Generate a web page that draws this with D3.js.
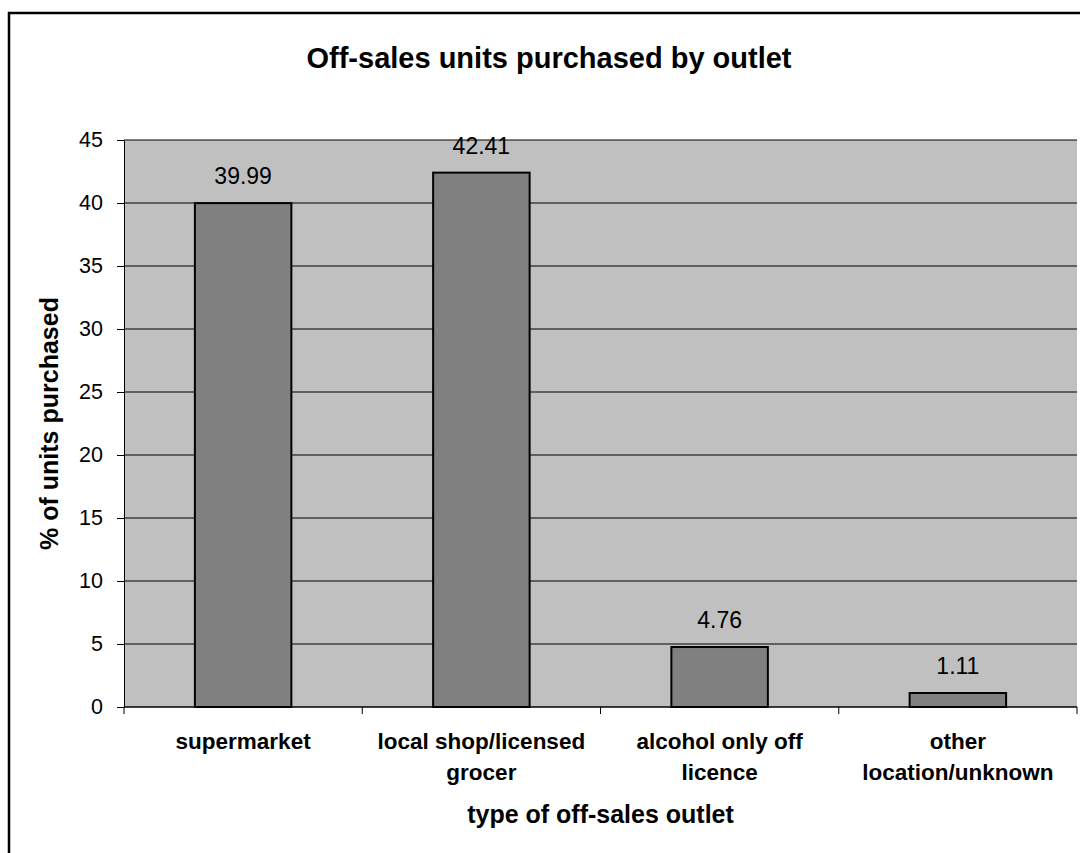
<!DOCTYPE html>
<html>
<head>
<meta charset="utf-8">
<script src="https://cdn.jsdelivr.net/npm/d3@7/dist/d3.min.js"></script>
<style>
  html, body { margin: 0; padding: 0; background: #fff; }
  svg { display: block; font-family: "Liberation Sans", Arial, sans-serif; }
</style>
</head>
<body>
<svg id="chart" width="1080" height="853"></svg>
<script>
// Share of off-sales units by outlet type
const categories = ["supermarket", "local shop/licensed grocer", "alcohol only off licence", "other location/unknown"];
const categoryLines = [["supermarket"], ["local shop/licensed", "grocer"], ["alcohol only off", "licence"], ["other", "location/unknown"]];
const values = [39.99, 42.41, 4.76, 1.11];
const yTicks = [0, 5, 10, 15, 20, 25, 30, 35, 40, 45];

const title = "Off-sales units purchased by outlet";
const yTitle = "% of units purchased";
const xTitle = "type of off-sales outlet";

const FONT = "'Liberation Sans', Arial, sans-serif";
const svg = d3.select("#chart");

// Outer chart frame (runs past the right and bottom edges)
svg.append("rect")
  .attr("x", 9).attr("y", 13)
  .attr("width", 1100).attr("height", 900)
  .attr("fill", "#fff").attr("stroke", "#000").attr("stroke-width", 2.5);

const plot = { left: 124, right: 1077, top: 140, bottom: 707 };

const x = d3.scaleBand()
  .domain(categories)
  .range([plot.left, plot.right])
  .paddingInner(0).paddingOuter(0);

const y = d3.scaleLinear()
  .domain([0, 45])
  .range([plot.bottom, plot.top]);

// Plot background
svg.append("rect")
  .attr("x", plot.left).attr("y", plot.top)
  .attr("width", plot.right - plot.left).attr("height", plot.bottom - plot.top)
  .attr("fill", "#c0c0c0");

// Horizontal gridlines
svg.append("g")
  .selectAll("line")
  .data(yTicks.filter(d => d > 0))
  .join("line")
  .attr("x1", plot.left).attr("x2", plot.right)
  .attr("y1", d => y(d)).attr("y2", d => y(d))
  .attr("stroke", "#000").attr("stroke-width", 1);

// Bars
const barW = x.bandwidth() * 0.405;
svg.append("g")
  .selectAll("rect")
  .data(values)
  .join("rect")
  .attr("x", (d, i) => x(categories[i]) + x.bandwidth() / 2 - barW / 2)
  .attr("y", d => y(d))
  .attr("width", barW)
  .attr("height", d => y(0) - y(d))
  .attr("fill", "#808080")
  .attr("stroke", "#000").attr("stroke-width", 2);

// Value labels
svg.append("g")
  .selectAll("text")
  .data(values)
  .join("text")
  .attr("x", (d, i) => x(categories[i]) + x.bandwidth() / 2)
  .attr("y", d => y(d) - 19)
  .attr("text-anchor", "middle")
  .attr("font-size", 23)
  .attr("fill", "#000")
  .text(d => d.toFixed(2));

// Y axis
const yAxis = svg.append("g")
  .attr("transform", `translate(${plot.left},0)`)
  .call(d3.axisLeft(y).tickValues(yTicks).tickSize(7).tickPadding(14).tickSizeOuter(0));
yAxis.select(".domain").attr("stroke", "#000").attr("stroke-width", 1);
yAxis.selectAll(".tick line").attr("stroke", "#000");
yAxis.selectAll(".tick text")
  .attr("font-size", 21.5).attr("fill", "#000")
  .attr("font-family", FONT);

// X axis: ticks sit on category boundaries
const xAxisG = svg.append("g")
  .attr("transform", `translate(0,${plot.bottom})`);
xAxisG.append("line")
  .attr("x1", plot.left).attr("x2", plot.right)
  .attr("y1", 0).attr("y2", 0)
  .attr("stroke", "#000").attr("stroke-width", 1.5);
const boundaries = categories.map(c => x(c)).concat([x(categories[categories.length - 1]) + x.bandwidth()]);
xAxisG.selectAll("line.tick")
  .data(boundaries)
  .join("line")
  .attr("class", "tick")
  .attr("x1", d => d).attr("x2", d => d)
  .attr("y1", 0).attr("y2", 7)
  .attr("stroke", "#000");

// Category labels
const catLabels = svg.append("g")
  .selectAll("text")
  .data(categories)
  .join("text")
  .attr("x", d => x(d) + x.bandwidth() / 2)
  .attr("y", 749)
  .attr("text-anchor", "middle")
  .attr("font-size", 22.5)
  .attr("font-weight", "bold")
  .attr("fill", "#000");
catLabels.each(function(d, i) {
  const t = d3.select(this);
  categoryLines[i].forEach((line, j) => {
    t.append("tspan")
      .attr("x", x(d) + x.bandwidth() / 2)
      .attr("dy", j === 0 ? 0 : 31)
      .text(line);
  });
});

// Titles
svg.append("text")
  .attr("x", 549).attr("y", 68)
  .attr("text-anchor", "middle")
  .attr("font-size", 29).attr("font-weight", "bold")
  .text(title);

svg.append("text")
  .attr("transform", `translate(58,${(plot.top + plot.bottom) / 2}) rotate(-90)`)
  .attr("text-anchor", "middle")
  .attr("font-size", 25).attr("font-weight", "bold")
  .text(yTitle);

svg.append("text")
  .attr("x", (plot.left + plot.right) / 2).attr("y", 823)
  .attr("text-anchor", "middle")
  .attr("font-size", 25).attr("font-weight", "bold")
  .text(xTitle);
</script>
</body>
</html>
